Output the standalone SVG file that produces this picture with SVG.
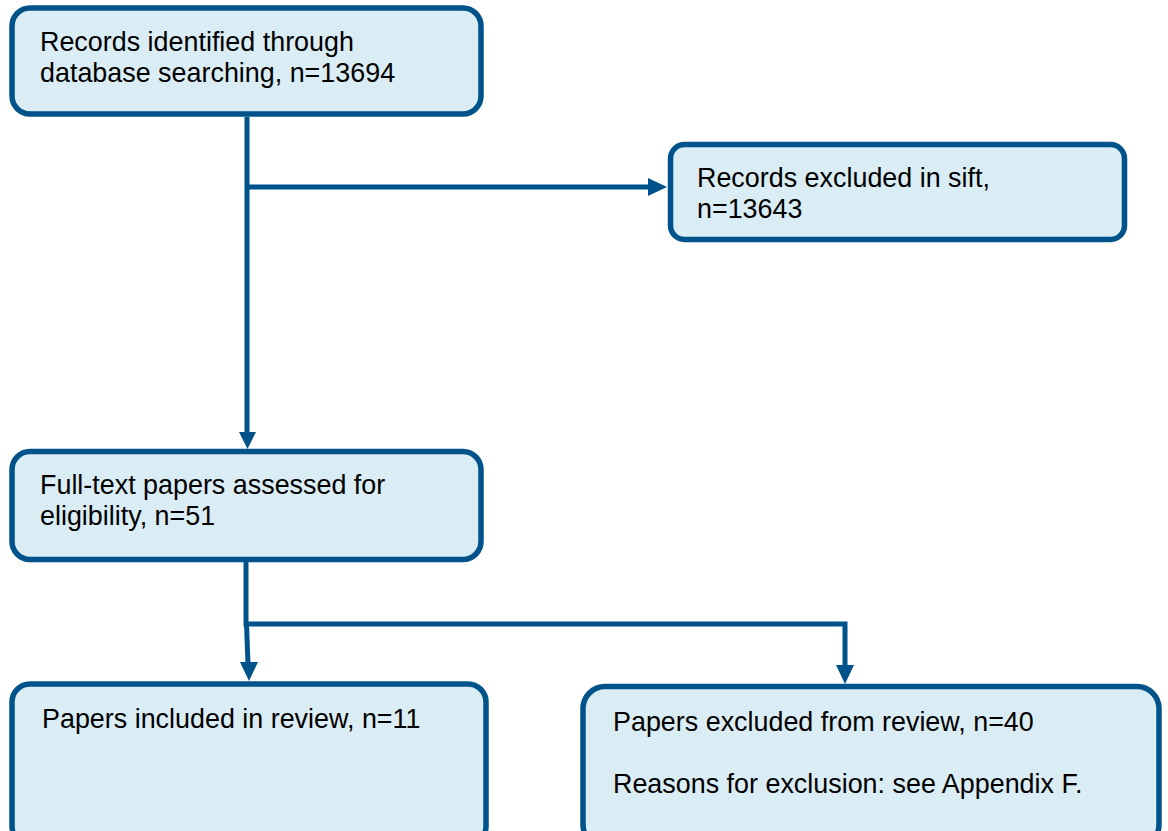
<svg xmlns="http://www.w3.org/2000/svg" width="1168" height="831" viewBox="0 0 1168 831">
<style>
.box{fill:#DAEDF4;stroke:#00528A;stroke-width:5.5}
.t{font-family:"Liberation Sans",Arial,sans-serif;font-size:26.9px;fill:#000}
.c{fill:none;stroke:#00528A;stroke-width:5}
.ah{fill:#00528A}
</style>
<g id="connectors">
<path class="c" d="M247,117 L247,434"/>
<path class="c" d="M247,187 L650,187"/>
<path class="c" d="M246,562 L246,624 L845,624 L845,666"/>
<path class="c" d="M246.5,624 L248,664"/>
<path class="ah" d="M240,662 L258,662 L249,681 z"/>
<path class="ah" d="M836,665 L854,665 L845,684 z"/>
<path class="ah" d="M239,432 L256,432 L247.5,449 z"/>
<path class="ah" d="M648,178 L648,196 L667,187 z"/>
</g>
<g id="n1">
<rect class="box" x="12" y="8" width="469" height="106" rx="18"/>
<text class="t" x="40" y="51">Records identified through</text>
<text class="t" x="40" y="82">database searching, n=13694</text>
</g>
<g id="n2">
<rect class="box" x="670.5" y="144.5" width="454" height="95" rx="14"/>
<text class="t" x="697" y="187">Records excluded in sift,</text>
<text class="t" x="697" y="218">n=13643</text>
</g>
<g id="n3">
<rect class="box" x="12" y="451.5" width="469" height="108" rx="18"/>
<text class="t" x="40" y="494">Full-text papers assessed for</text>
<text class="t" x="40" y="525">eligibility, n=51</text>
</g>
<g id="n4">
<rect class="box" x="12" y="684" width="474" height="160" rx="18"/>
<text class="t" x="42" y="728">Papers included in review, n=11</text>
</g>
<g id="n5">
<rect class="box" x="583" y="686.5" width="576" height="160" rx="22"/>
<text class="t" x="613" y="731">Papers excluded from review, n=40</text>
<text class="t" x="613" y="793">Reasons for exclusion: see Appendix F.</text>
</g>
</svg>
